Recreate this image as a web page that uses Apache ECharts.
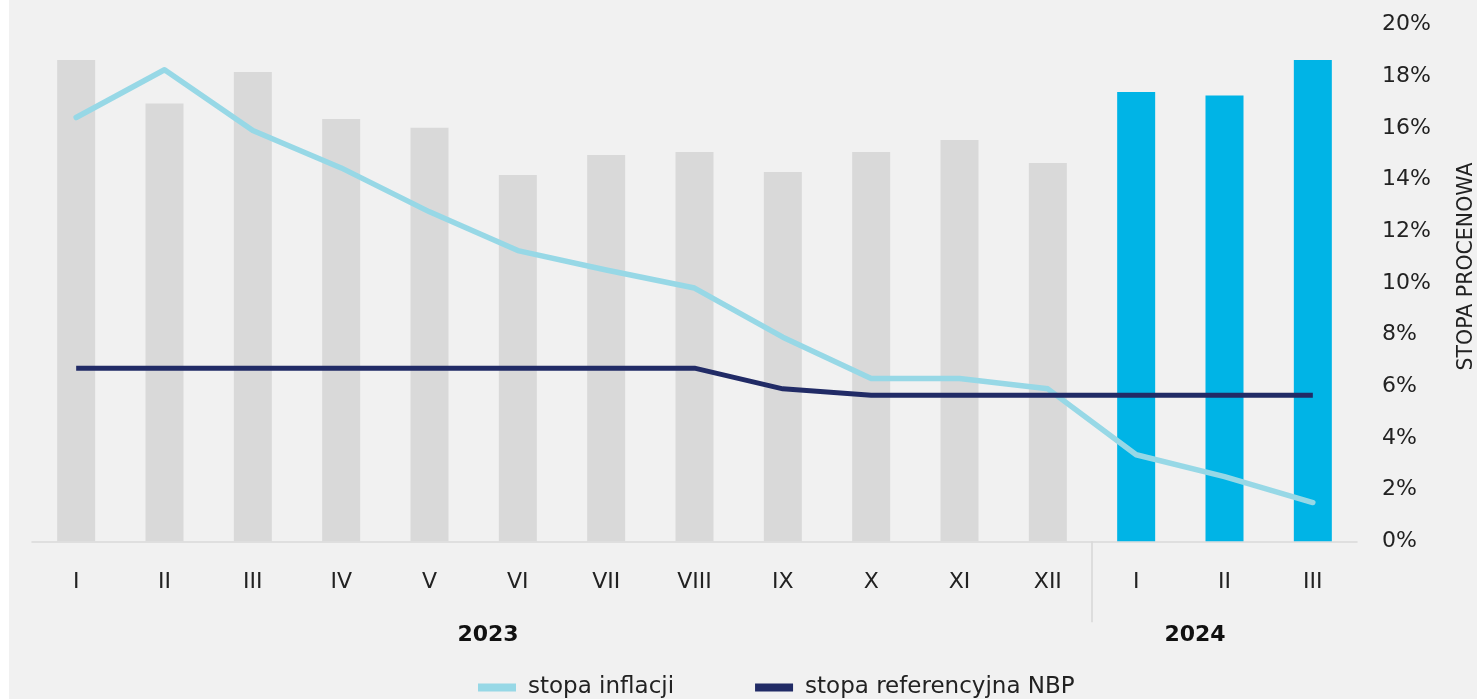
<!DOCTYPE html>
<html>
<head>
<meta charset="utf-8">
<script src="https://cdn.jsdelivr.net/npm/echarts@6/dist/echarts.min.js"></script>
<style>
html,body{margin:0;padding:0;background:#ffffff;}
#chart{position:absolute;left:9px;top:0;width:1468px;height:699px;background:#f1f1f1;}
</style>
</head>
<body>
<div id="chart"></div>
<script>
// Data
const months = ['I','II','III','IV','V','VI','VII','VIII','IX','X','XI','XII','I','II','III'];
const monthYears = [2023,2023,2023,2023,2023,2023,2023,2023,2023,2023,2023,2023,2024,2024,2024];
const barValues = [18.63,16.94,18.16,16.34,16.0,14.18,14.95,15.07,14.29,15.07,15.53,14.64,17.39,17.25,18.63];
const inflation = [16.4,18.25,15.9,14.45,12.75,11.25,10.5,9.8,7.9,6.3,6.3,5.9,3.35,2.5,1.5];
const nbpRate = [6.7,6.7,6.7,6.7,6.7,6.7,6.7,6.7,5.9,5.65,5.65,5.65,5.65,5.65,5.65];
const yearLabels = ['2023','2024'];
const yTicks = [0,2,4,6,8,10,12,14,16,18,20];
const seriesNames = ['stopa inflacji','stopa referencyjna NBP'];
const axisTitle = 'STOPA PROCENOWA';

const FONT = "'DejaVu Sans', sans-serif";
const TXT = '#222222';
const chart = echarts.init(document.getElementById('chart'), null, {renderer:'canvas'});

chart.setOption({
  animation:false,
  backgroundColor:'#f1f1f1',
  textStyle:{fontFamily:FONT},
  grid:{left:23, right:120, top:24.5, bottom:157.7, containLabel:false},
  legend:{
    data:seriesNames,
    left:464, top:671,
    icon:'rect', itemWidth:38, itemHeight:8, itemGap:81,
    textStyle:{fontSize:23, color:TXT, fontFamily:FONT, padding:[0,0,0,7]}
  },
  xAxis:{
    type:'category', data:months, boundaryGap:true,
    axisLine:{show:true, lineStyle:{color:'#d9d9d9', width:1.5}},
    axisTick:{show:false},
    axisLabel:{fontSize:22, color:TXT, margin:30, fontFamily:FONT, interval:0}
  },
  yAxis:{
    type:'value', position:'right', min:yTicks[0], max:yTicks[yTicks.length-1], interval:2,
    axisLine:{show:false}, axisTick:{show:false}, splitLine:{show:false},
    axisLabel:{formatter:'{value}%', fontSize:22, color:TXT, margin:25, align:'left', fontFamily:FONT}
  },
  series:[
    {
      type:'bar', name:'wartość', data:barValues, barWidth:38, z:1,
      itemStyle:{color:p => monthYears[p.dataIndex] === 2024 ? '#00b4e6' : '#d9d9d9'},
      emphasis:{disabled:true}
    },
    {
      type:'line', name:seriesNames[0], data:inflation, symbol:'none', z:3,
      lineStyle:{color:'#97d8e6', width:5.5, cap:'round', join:'round'},
      itemStyle:{color:'#97d8e6'}
    },
    {
      type:'line', name:seriesNames[1], data:nbpRate, symbol:'none', z:4,
      lineStyle:{color:'#212b66', width:5, cap:'butt', join:'round'},
      itemStyle:{color:'#212b66'}
    }
  ]
});

// separator between years and year labels
const x11 = chart.convertToPixel({xAxisIndex:0}, 11);
const x12 = chart.convertToPixel({xAxisIndex:0}, 12);
const sepX = (x11 + x12) / 2;
const baseY = chart.convertToPixel({yAxisIndex:0}, 0);
chart.setOption({
  graphic:[
    {type:'line', shape:{x1:sepX, y1:baseY, x2:sepX, y2:baseY+81}, style:{stroke:'#d0d0d0', lineWidth:1.2}, silent:true},
    {type:'text', x:479, y:635, style:{text:yearLabels[0], font:"bold 22px "+FONT, fill:'#111', textAlign:'center', textVerticalAlign:'middle'}},
    {type:'text', x:1186, y:635, style:{text:yearLabels[1], font:"bold 22px "+FONT, fill:'#111', textAlign:'center', textVerticalAlign:'middle'}},
    {type:'text', x:1458, y:266.5, rotation:Math.PI/2, style:{text:axisTitle, font:"20.5px "+FONT, fill:TXT, textAlign:'center', textVerticalAlign:'middle'}}
  ]
});
</script>
</body>
</html>
